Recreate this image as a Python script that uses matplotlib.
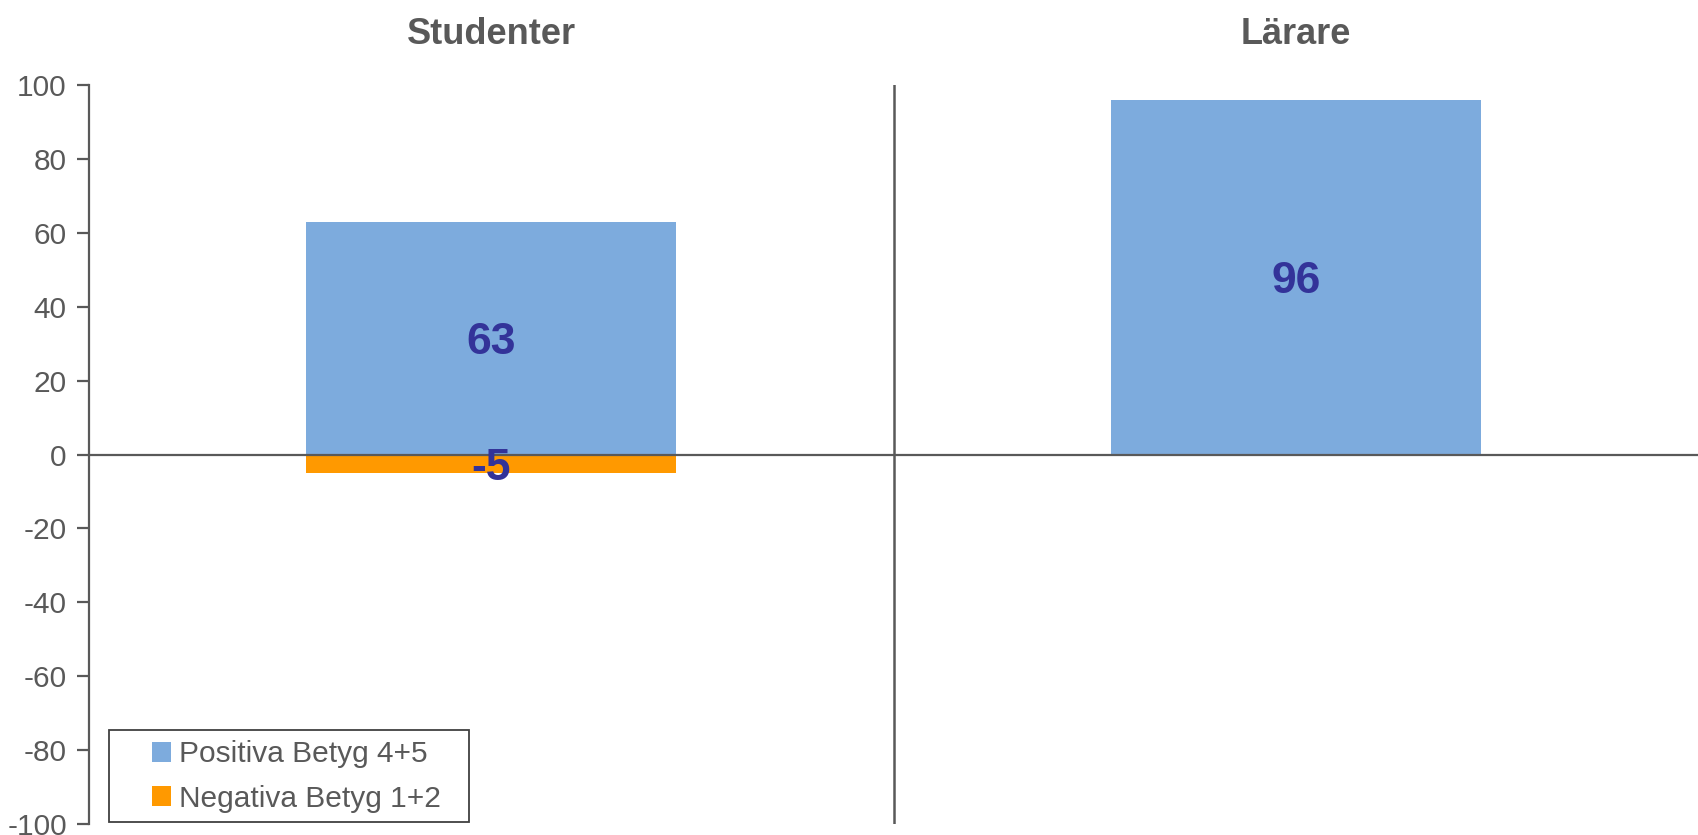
import matplotlib
matplotlib.use("Agg")
import matplotlib.pyplot as plt
from matplotlib.patches import Patch, Rectangle
from matplotlib.transforms import blended_transform_factory

plt.rcParams['font.family'] = ['Liberation Sans', 'DejaVu Sans']

categories = ["Studenter", "Lärare"]
positive = [63, 96]
negative = [-5, 0]
series_names = ["Positiva Betyg 4+5", "Negativa Betyg 1+2"]
yticks = [-100, -80, -60, -40, -20, 0, 20, 40, 60, 80, 100]

W, H = 1698, 835
fig = plt.figure(figsize=(W / 100, H / 100), dpi=100)
ax = fig.add_axes([89 / W, 1 - 824 / H, 1 - 89 / W, (824 - 85) / H])

blue = "#7DABDD"
orange = "#FF9900"
txt = "#595959"
lab = "#333399"

x = list(range(len(categories)))
ax.bar(x, positive, width=0.46, color=blue, zorder=2)
ax.bar(x, negative, width=0.46, color=orange, zorder=2)

ax.axhline(0, color="#595959", lw=1.6, zorder=3)
ax.axvline(0.5, color="#595959", lw=1.8, zorder=3)

for xi, v in zip(x, positive):
    if v != 0:
        ax.text(xi, v / 2, f"{v}", ha="center", va="center_baseline", fontsize=32,
                fontweight="bold", color=lab, zorder=4)
for xi, v in zip(x, negative):
    if v != 0:
        ax.text(xi, v / 2, f"{v}", ha="center", va="center_baseline", fontsize=32,
                fontweight="bold", color=lab, zorder=4)

tr = blended_transform_factory(ax.transData, fig.transFigure)
for xi, c in zip(x, categories):
    ax.text(xi, 1 - 31 / H, c, transform=tr, ha="center", va="center_baseline",
            fontsize=26, fontweight="bold", color=txt)

ax.set_xlim(-0.5, 1.5)
ax.set_ylim(-100, 100)
ax.set_yticks(yticks)
ax.set_yticklabels([str(t) for t in yticks])
ax.set_xticks([])
for s in ["top", "right", "bottom"]:
    ax.spines[s].set_visible(False)
ax.spines["left"].set_color("#595959")
ax.spines["left"].set_linewidth(1.6)
ax.tick_params(axis="y", length=9, width=1.6, color="#595959",
               labelsize=21.5, labelcolor=txt, pad=7)

handles = [Patch(facecolor=blue, edgecolor="none"),
           Patch(facecolor=orange, edgecolor="none")]
leg = fig.legend(handles, series_names, loc="center left",
                 bbox_to_anchor=(152 / W, 1 - 776.5 / H), frameon=False,
                 fontsize=21.5, handlelength=0.65, handleheight=0.65,
                 handletextpad=0.25, labelspacing=0.55, borderpad=0,
                 borderaxespad=0, labelcolor=txt)

frame = Rectangle((109 / W, 1 - 822 / H), (469 - 109) / W, (822 - 730) / H,
                  transform=fig.transFigure, fill=False, edgecolor="#404040",
                  lw=1.3)
fig.patches.append(frame)

fig.savefig("out.png", dpi=100)
